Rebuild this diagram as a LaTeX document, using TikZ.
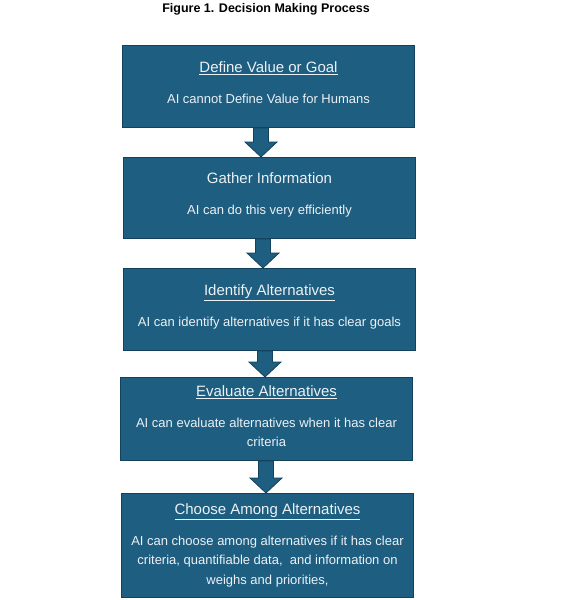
\documentclass[tikz,border=0pt]{standalone}
\usepackage{fontspec}
\setmainfont{Liberation Sans}
\usetikzlibrary{calc}
\definecolor{boxfill}{RGB}{30,94,128}
\definecolor{boxline}{RGB}{20,66,92}
\definecolor{boxtext}{RGB}{236,241,245}
\newcommand\hfnt{\fontsize{15}{19.5}\selectfont}
\newcommand\bfnt{\fontsize{13}{19.5}\selectfont}
\newcommand\lift[1]{\rule[-#1]{0pt}{0pt}}
\newcommand\blockarrow[3]{\path[barrow] let \p1=(#1.south), \p2=(#2.north) in
 (#3pt-7.5pt,\y1) -- (#3pt+7.5pt,\y1) -- (#3pt+7.5pt,\y2+15pt) -- (#3pt+16pt,\y2+15pt) --
 (#3pt,\y2) -- (#3pt-16pt,\y2+15pt) -- (#3pt-7.5pt,\y2+15pt) -- cycle;}
\tikzset{
  stepbox/.style={draw=boxline, fill=boxfill, line width=1pt, anchor=north west,
    minimum width=292pt, inner sep=0pt, align=center, text=boxtext, font=\bfnt},
  barrow/.style={draw=boxline, fill=boxfill, line width=0.8pt, line join=miter},
  ttl/.style={font=\fontsize{12.5}{15}\selectfont\bfseries, text=black}
}
\begin{document}
\begin{tikzpicture}[x=1pt,y=-1pt]
\useasboundingbox (0,0) rectangle (583,600);
\node[ttl] (title) at (266,9) {Figure 1. Decision Making Process};
\node[stepbox, minimum height=82pt] (b1) at (122,45)
  {{\hfnt\underline{Define Value or Goal}}\\[11.5pt]AI cannot Define Value for Humans\lift{8pt}};
\node[stepbox, minimum height=81pt] (b2) at (123,157)
  {{\hfnt Gather Information}\\[11.5pt]AI can do this very efficiently\lift{8pt}};
\node[stepbox, minimum height=82pt] (b3) at (123,268)
  {{\hfnt\underline{Identify Alternatives}}\\[11.5pt]AI can identify alternatives if it has clear goals\lift{8pt}};
\node[stepbox, minimum height=83pt] (b4) at (120,377)
  {{\hfnt\underline{Evaluate Alternatives}}\\[11.5pt]AI can evaluate alternatives when it has clear\\criteria\lift{6pt}};
\node[stepbox, minimum height=104pt] (b5) at (121,493)
  {{\hfnt\underline{Choose Among Alternatives}}\\[11.5pt]AI can choose among alternatives if it has clear\\criteria, quantifiable data,\ \ and information on\\weighs and priorities,\lift{3pt}};
\blockarrow{b1}{b2}{261}
\blockarrow{b2}{b3}{263}
\blockarrow{b3}{b4}{265}
\blockarrow{b4}{b5}{266}
\end{tikzpicture}
\end{document}
